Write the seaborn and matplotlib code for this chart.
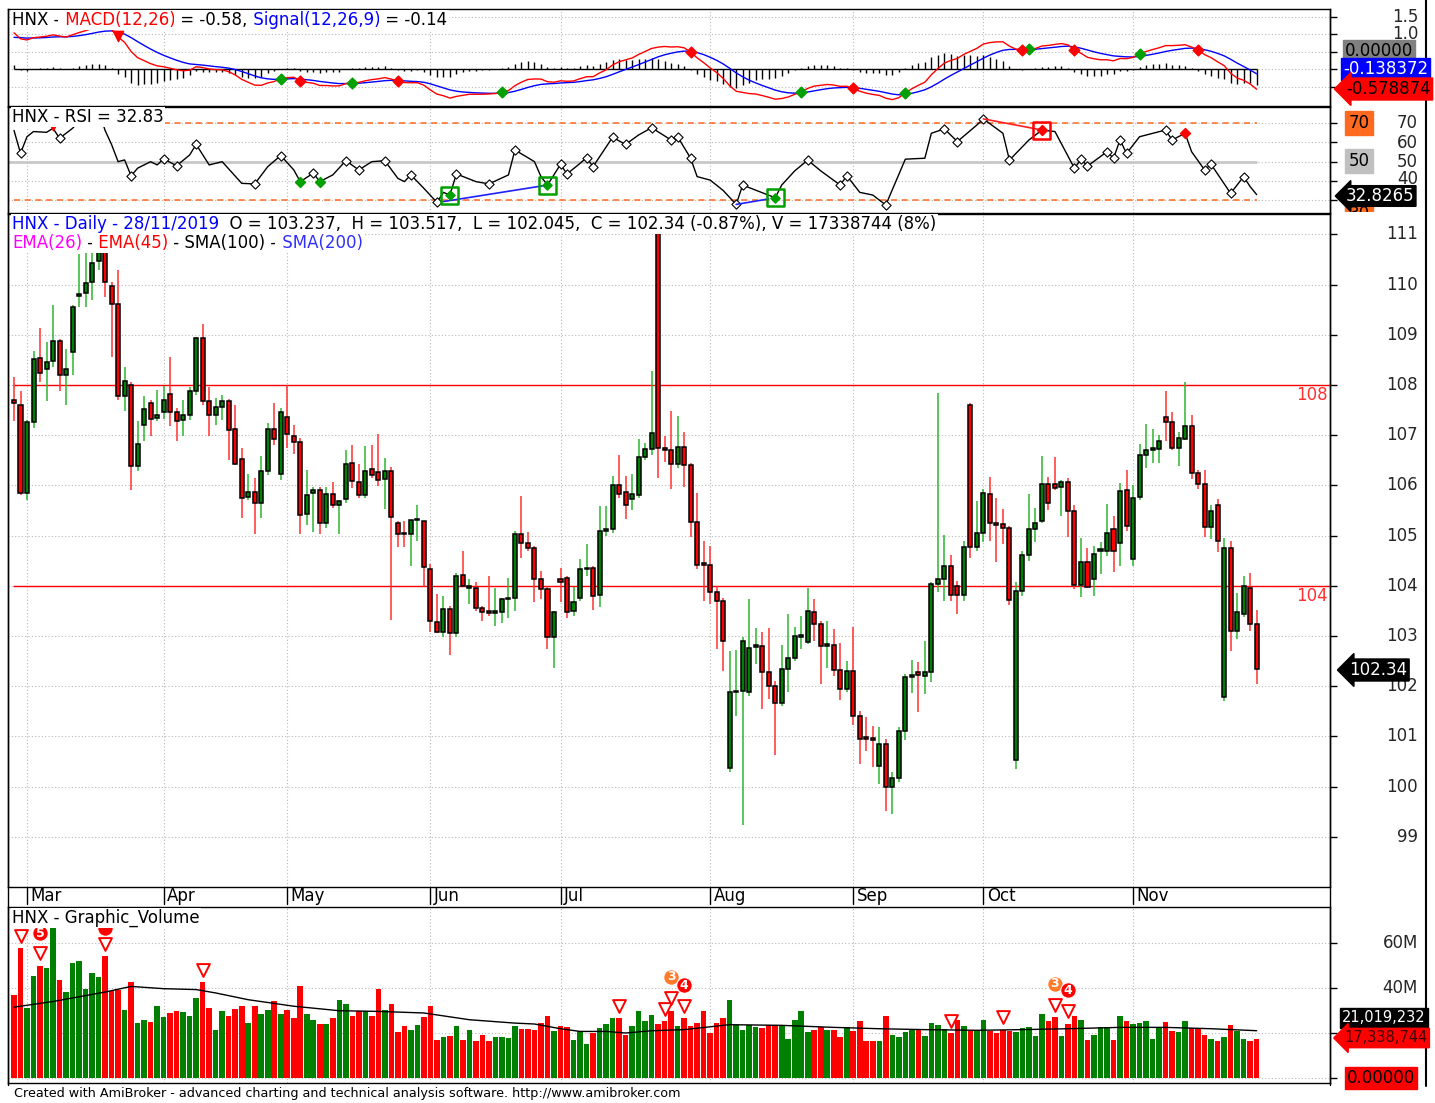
import numpy as np
import pandas as pd
import matplotlib
matplotlib.use("Agg")
import matplotlib.pyplot as plt
import matplotlib.transforms as mtransforms
import seaborn as sns

# ---------------------------------------------------------------- data
HOLIDAYS = ["2019-04-15", "2019-04-29", "2019-04-30", "2019-05-01", "2019-09-02"]
MONTH_LABELS = ["Mar", "Apr", "May", "Jun", "Jul", "Aug", "Sep", "Oct", "Nov"]

opens = [107.70, 107.61, 105.85, 107.26, 108.53, 108.31, 108.48, 108.87, 108.20, 108.66,
         109.78, 109.83, 110.05, 110.46, 110.65, 109.98, 109.61, 107.79, 107.99, 106.38,
         107.20, 107.65, 107.35, 107.46, 107.83, 107.46, 107.30, 107.41, 107.88, 108.93,
         107.69, 107.41, 107.57, 107.69, 107.12, 106.52, 105.76, 105.86, 105.65, 106.29,
         107.13, 106.23, 107.37, 106.99, 106.87, 105.43, 105.85, 105.90, 105.26, 105.83,
         105.61, 105.72, 106.44, 106.07, 105.80, 106.32, 106.27, 106.13, 106.29, 105.25,
         105.05, 105.03, 105.31, 105.30, 104.34, 103.28, 103.08, 103.54, 103.05, 104.21,
         103.96, 103.95, 103.55, 103.48, 103.46, 103.47, 103.73, 103.76, 105.04, 104.85,
         104.76, 104.14, 103.94, 102.97, 104.14, 104.16, 103.50, 103.76, 104.33, 104.36,
         103.81, 105.09, 105.14, 106.01, 105.86, 105.72, 105.80, 106.57, 106.72, 111.03,
         106.75, 106.70, 106.43, 106.76, 106.40, 105.28, 104.45, 104.41, 103.88, 103.70,
         100.38, 101.88, 101.91, 101.89, 102.79, 102.81, 102.29, 102.00, 101.67, 102.34,
         102.57, 102.98, 102.89, 103.47, 103.24, 102.81, 102.83, 102.33, 101.94, 102.31,
         101.40, 100.97, 100.96, 100.42, 100.85, 99.99, 100.18, 101.11, 102.18, 102.29,
         102.20, 102.29, 104.04, 104.14, 104.39, 104.00, 103.82, 107.60, 104.77, 105.05,
         105.82, 105.25, 105.23, 105.15, 100.52, 103.90, 104.61, 105.14, 105.30, 106.03,
         106.03, 105.96, 106.06, 105.48, 104.02, 104.47, 104.13, 104.70, 104.70, 105.14,
         104.85, 105.91, 104.54, 105.76, 106.60, 106.71, 106.72, 107.36, 107.26, 106.75,
         106.93, 107.19, 106.25, 106.03, 105.17, 105.61, 101.79, 104.75, 103.09, 103.44,
         103.95, 103.237]
highs = [108.15, 107.88, 107.30, 108.68, 109.13, 108.85, 109.60, 108.92, 108.71, 109.60,
         110.60, 110.65, 110.65, 110.72, 110.70, 110.05, 110.30, 108.35, 108.05, 107.28,
         107.78, 107.70, 107.91, 107.98, 108.55, 107.55, 107.71, 107.95, 108.95, 109.22,
         107.95, 107.75, 107.80, 107.72, 107.60, 106.75, 106.23, 106.15, 106.59, 107.25,
         107.65, 107.55, 108.00, 107.20, 106.95, 106.30, 105.96, 105.96, 105.96, 106.07,
         105.70, 106.71, 106.80, 106.42, 106.79, 106.80, 107.03, 106.55, 106.37, 105.30,
         105.30, 105.32, 105.60, 105.30, 104.44, 103.84, 103.80, 103.60, 104.25, 104.70,
         104.13, 104.07, 103.60, 104.19, 103.96, 103.75, 104.15, 105.10, 105.78, 105.07,
         104.80, 104.29, 104.00, 103.50, 104.36, 104.20, 103.97, 104.53, 104.83, 104.40,
         105.58, 105.58, 106.19, 106.60, 106.18, 106.22, 106.92, 106.85, 108.27, 111.05,
         106.98, 107.48, 107.39, 107.06, 106.45, 105.85, 104.89, 104.79, 104.00, 103.75,
         102.70, 102.73, 102.98, 103.74, 103.16, 103.07, 103.15, 102.10, 102.83, 103.43,
         103.18, 103.40, 103.96, 103.73, 103.30, 103.30, 103.13, 102.87, 102.50, 103.17,
         101.50, 101.38, 101.20, 101.18, 100.95, 100.30, 101.18, 102.25, 102.52, 102.48,
         102.91, 104.08, 107.84, 105.02, 104.62, 104.10, 104.90, 107.65, 105.69, 105.92,
         106.16, 105.75, 105.52, 105.20, 104.07, 104.70, 105.82, 105.54, 106.59, 106.16,
         106.56, 106.10, 106.15, 105.61, 104.95, 104.76, 104.80, 104.87, 105.63, 105.40,
         106.05, 106.30, 106.00, 106.82, 107.23, 107.12, 107.01, 107.88, 107.47, 107.07,
         108.06, 107.41, 106.30, 106.31, 105.60, 105.73, 104.95, 104.90, 103.85, 104.19,
         104.25, 103.517]
lows = [107.28, 105.80, 105.70, 107.15, 108.05, 107.68, 108.35, 107.88, 107.61, 108.20,
        109.55, 109.55, 109.70, 110.30, 109.75, 108.55, 107.70, 107.48, 105.90, 106.28,
        106.88, 106.98, 107.28, 107.33, 107.18, 106.88, 106.98, 107.31, 107.80, 107.60,
        106.98, 107.20, 107.30, 106.50, 106.40, 105.36, 105.70, 105.03, 105.35, 106.20,
        106.80, 106.10, 106.75, 106.62, 105.03, 105.21, 105.07, 105.03, 105.15, 105.55,
        105.03, 105.65, 105.95, 105.75, 105.75, 106.15, 105.99, 105.52, 103.31, 104.77,
        104.77, 104.40, 104.90, 103.97, 103.08, 103.05, 102.98, 102.63, 102.98, 103.98,
        103.63, 103.50, 103.30, 103.40, 103.20, 103.25, 103.35, 103.50, 104.55, 104.70,
        103.67, 103.73, 102.74, 102.37, 103.67, 103.36, 103.40, 103.70, 104.20, 103.52,
        103.57, 105.00, 105.05, 105.75, 105.34, 105.50, 105.75, 106.50, 106.60, 106.15,
        106.47, 105.93, 106.35, 105.96, 104.97, 104.34, 103.70, 103.64, 102.75, 102.31,
        100.30, 101.40, 99.23, 101.80, 102.45, 101.55, 101.75, 100.63, 101.60, 101.88,
        102.50, 102.75, 102.85, 102.90, 102.04, 102.37, 102.20, 101.73, 101.88, 101.23,
        100.45, 100.70, 100.40, 100.05, 99.52, 99.45, 100.10, 100.92, 101.86, 101.48,
        101.84, 102.09, 103.88, 103.70, 103.70, 103.44, 103.70, 104.55, 104.70, 104.87,
        104.89, 104.48, 104.83, 103.61, 100.35, 103.80, 104.50, 104.88, 105.25, 105.50,
        105.90, 105.40, 104.97, 103.94, 103.77, 103.95, 103.80, 104.24, 104.60, 104.28,
        104.40, 105.10, 104.40, 105.70, 106.35, 106.45, 106.44, 106.89, 106.70, 106.39,
        106.90, 106.13, 105.93, 104.97, 104.94, 104.68, 101.70, 102.70, 102.94, 103.38,
        103.10, 102.045]
closes = [107.65, 105.85, 107.26, 108.51, 108.23, 108.46, 108.87, 108.20, 108.31, 109.55,
          109.82, 110.03, 110.43, 110.65, 110.05, 109.61, 107.79, 108.08, 106.38, 106.83,
          107.53, 107.33, 107.41, 107.71, 107.46, 107.28, 107.41, 107.88, 108.93, 107.69,
          107.41, 107.57, 107.69, 107.10, 106.42, 105.74, 105.86, 105.65, 106.29, 107.13,
          106.93, 107.46, 107.02, 106.87, 105.41, 105.81, 105.90, 105.26, 105.83, 105.61,
          105.68, 106.42, 106.09, 105.80, 106.29, 106.20, 106.11, 106.29, 105.38, 105.03,
          105.03, 105.32, 105.33, 104.37, 103.29, 103.08, 103.54, 103.05, 104.20, 104.00,
          103.97, 103.55, 103.48, 103.46, 103.47, 103.73, 103.76, 105.04, 104.86, 104.76,
          104.14, 103.94, 102.97, 103.48, 104.07, 103.47, 103.67, 104.33, 104.36, 103.80,
          105.09, 105.14, 106.01, 105.82, 105.60, 105.82, 106.57, 106.72, 107.05, 106.75,
          106.70, 106.42, 106.76, 106.40, 105.28, 104.41, 104.42, 103.88, 103.70, 102.90,
          101.89, 101.90, 102.91, 102.77, 102.81, 102.29, 102.00, 101.67, 102.34, 102.57,
          102.99, 103.00, 103.50, 103.24, 102.81, 102.83, 102.33, 101.94, 102.31, 101.40,
          100.95, 100.95, 100.92, 100.85, 99.99, 100.18, 101.11, 102.19, 102.22, 102.22,
          102.29, 104.04, 104.14, 104.39, 103.82, 103.82, 104.77, 104.77, 105.05, 105.84,
          105.26, 105.21, 105.15, 103.72, 103.90, 104.61, 105.14, 105.25, 106.03, 105.65,
          105.94, 106.06, 105.48, 104.02, 104.48, 103.97, 104.63, 104.72, 105.05, 104.70,
          105.88, 105.19, 105.74, 106.60, 106.70, 106.73, 106.89, 107.26, 106.75, 106.95,
          107.19, 106.25, 106.03, 105.17, 105.48, 104.90, 104.75, 103.09, 103.48, 104.00,
          103.24, 102.34]
volumes_m = [37.0, 57.8, 31.1, 45.5, 49.9, 48.9, 67.0, 43.7, 38.1, 51.1,
             52.1, 39.7, 46.7, 44.7, 54.1, 38.8, 39.3, 30.4, 42.5, 24.4,
             25.9, 24.9, 31.9, 27.1, 28.9, 29.9, 29.3, 27.7, 35.6, 42.5,
             31.1, 21.5, 29.9, 27.7, 30.8, 31.9, 24.4, 31.9, 28.4, 30.4,
             34.4, 28.4, 30.4, 26.7, 40.7, 28.4, 25.9, 24.0, 24.0, 26.7,
             34.5, 32.9, 27.7, 29.9, 29.6, 27.7, 39.7, 30.4, 32.9, 20.4,
             23.3, 21.5, 23.7, 27.0, 31.9, 17.0, 18.1, 18.5, 23.3, 17.0,
             21.5, 16.6, 19.3, 16.3, 18.1, 18.1, 17.8, 23.3, 21.9, 21.9,
             21.5, 24.4, 27.7, 20.7, 23.0, 22.5, 17.0, 21.0, 15.1, 20.0,
             22.2, 24.0, 26.7, 26.7, 19.3, 23.0, 29.6, 25.5, 28.1, 24.0,
             25.2, 29.9, 23.0, 26.7, 23.2, 24.4, 29.9, 20.0, 24.4, 26.7,
             34.5, 23.7, 21.5, 23.4, 22.5, 22.2, 23.4, 23.0, 23.4, 17.5,
             25.9, 29.9, 20.3, 21.5, 22.5, 21.5, 21.5, 18.1, 22.5, 20.7,
             25.5, 16.6, 16.3, 16.3, 27.7, 19.3, 18.1, 20.3, 21.9, 21.9,
             18.5, 24.4, 23.7, 21.9, 20.0, 25.9, 22.9, 21.0, 21.5, 25.9,
             20.7, 20.0, 21.5, 20.7, 20.4, 22.2, 22.5, 18.8, 28.4, 25.2,
             27.1, 18.5, 24.1, 27.7, 25.9, 17.0, 19.3, 22.7, 22.5, 17.0,
             27.7, 25.5, 24.1, 24.4, 25.5, 17.5, 22.5, 24.9, 21.0, 20.4,
             25.5, 22.2, 22.2, 19.3, 17.5, 16.3, 18.1, 23.7, 20.7, 17.5,
             16.6, 17.34]

# volume moving average (bar index, millions)
vol_ma_idx = [0, 6, 14, 18, 23, 28, 31, 36, 43, 50, 56, 63, 70, 77, 80, 84, 87, 91, 94, 98,
              103, 110, 118, 126, 133, 140, 148, 155, 162, 170, 177, 184, 191]
vol_ma_val = [31.5, 34.0, 38.2, 40.7, 39.7, 39.3, 37.8, 34.8, 31.9, 29.9, 29.6, 28.9, 25.9,
              24.4, 24.0, 21.9, 20.7, 20.7, 20.0, 21.0, 21.5, 23.7, 23.4, 22.5, 21.9, 21.5,
              21.2, 21.5, 21.9, 22.5, 22.5, 21.9, 21.02]

# RSI(14) (bar index, value)
rsi_idx = [0, 1, 2, 3, 5, 6, 7, 9, 10, 11, 12, 13, 14, 15, 16, 17, 18, 19, 21, 22, 23, 25, 27,
           28, 30, 32, 35, 37, 39, 41, 43, 44, 46, 47, 49, 51, 53, 55, 57, 59, 60, 61, 63, 65,
           66, 67, 68, 71, 73, 76, 77, 80, 81, 82, 84, 85, 87, 88, 89, 92, 94, 96, 98, 101,
           102, 104, 105, 107, 109, 111, 112, 116, 117, 118, 120, 122, 124, 127, 128, 130,
           132, 134, 137, 140, 141, 143, 145, 148, 149, 152, 153, 156, 158, 160, 163, 164,
           165, 168, 169, 170, 171, 173, 177, 178, 180, 181, 183, 184, 187, 189, 190, 191]
rsi_val = [66.3, 54.4, 63.0, 65.7, 65.3, 67.4, 62.2, 67.4, 71.0, 73.5, 76.0, 77.0, 66.3, 58.9,
           50.0, 50.9, 42.6, 46.6, 50.0, 48.3, 51.4, 47.9, 53.5, 59.0, 48.3, 50.0, 38.7, 38.4,
           47.4, 53.2, 45.7, 39.6, 44.0, 39.6, 43.1, 50.5, 45.7, 50.0, 50.5, 41.3, 39.6, 43.1,
           36.1, 28.8, 34.0, 32.6, 43.6, 39.6, 38.4, 43.1, 56.1, 50.0, 42.2, 37.8, 48.6, 43.6,
           49.1, 52.1, 47.4, 62.7, 59.0, 63.9, 67.7, 61.3, 63.0, 51.8, 42.2, 40.4, 35.0, 27.7,
           37.8, 32.5, 31.2, 37.8, 45.2, 50.8, 45.2, 37.8, 42.7, 34.0, 32.6, 27.4, 51.3, 51.8,
           64.8, 67.1, 60.5, 69.1, 72.3, 64.8, 50.8, 61.3, 66.5, 65.7, 46.5, 51.3, 47.7, 55.2,
           51.8, 61.3, 54.3, 63.0, 66.5, 61.3, 64.8, 55.2, 45.7, 48.6, 33.5, 42.2, 37.0, 32.83]
rsi_pivots = [1, 7, 18, 23, 25, 28, 37, 41, 46, 51, 53, 57, 61, 65, 68, 73, 77, 84, 85, 88, 89,
              92, 94, 98, 101, 102, 104, 111, 112, 122, 127, 128, 134, 143, 145, 149, 153, 163,
              164, 165, 168, 169, 170, 171, 177, 178, 183, 184, 187, 189]

# MACD state at the first visible bar
MACD_START = 1.04
SIGNAL_START = 0.91
EMA26_START = 106.0

macd_buy_idx = [41, 52, 75, 121, 137, 156, 173]
macd_sell_idx = [44, 59, 104, 129, 155, 163, 182]
vol_signal_idx = [1, 4, 14, 29, 93, 100, 101, 103, 144, 152, 160, 162]

# ---------------------------------------------------------------- derived
dates = pd.bdate_range("2019-02-27", "2019-11-28")
dates = dates[~dates.isin(pd.to_datetime(HOLIDAYS))]
n = len(closes)
x = np.arange(n)
o, h, l, c = map(np.array, (opens, highs, lows, closes))
vol = np.array(volumes_m)
up = c >= o
month_first = [i for i in range(1, n) if dates[i].month != dates[i - 1].month]

e26 = EMA26_START
e12 = EMA26_START + MACD_START
sig = SIGNAL_START
macd, signal = [], []
for k in range(n):
    if k > 0:
        e12 += 2 / 13 * (c[k] - e12)
        e26 += 2 / 27 * (c[k] - e26)
        sig += 2 / 10 * ((e12 - e26) - sig)
    macd.append(e12 - e26)
    signal.append(sig)
macd = np.array(macd)
signal = np.array(signal)
hist = macd - signal

# ---------------------------------------------------------------- figure
W, H = 1435, 1103
sns.set_theme(style="white")
plt.rcParams["font.family"] = ["DejaVu Sans"]
FS = 12
fig = plt.figure(figsize=(W / 100, H / 100), dpi=100)


def rect(x0, y0, x1, y1):
    return [x0 / W, 1 - y1 / H, (x1 - x0) / W, (y1 - y0) / H]


XL = ((8 - 14) / 6.506, (1330 - 14) / 6.506)
ax_m = fig.add_axes(rect(8, 9, 1330, 106))
ax_r = fig.add_axes(rect(8, 107, 1330, 213))
ax_p = fig.add_axes(rect(8, 214, 1330, 887))
ax_v = fig.add_axes(rect(8, 907, 1330, 1083))

GRID = dict(color="#b8b8b8", lw=0.8, ls=(0, (1, 2)), zorder=0)
for ax, yt in ((ax_m, [1.5, 1.0, 0.5, 0.0, -0.5]), (ax_r, [70, 60, 50, 40, 30]),
               (ax_p, list(range(99, 112))), (ax_v, [0, 20, 40, 60])):
    ax.set_xlim(*XL)
    for s in ax.spines.values():
        s.set_color("black")
        s.set_linewidth(1.0)
    ax.set_yticks(yt)
    ax.yaxis.tick_right()
    ax.tick_params(axis="y", which="both", direction="out", length=5, width=1,
                   color="black", labelright=False, labelleft=False)
    ax.set_xticks([])
    for mf in month_first:
        ax.axvline(mf, **GRID)
    for v in yt:
        ax.axhline(v, **GRID)

ax_m.set_ylim(-1.051, 1.72)
ax_r.set_ylim(23.24, 78.5)
ax_p.set_ylim(98.0, 111.406)
ax_v.set_ylim(-2.22, 76.0)

# ---- MACD panel
ax_m.vlines(x, 0, hist, color="black", lw=1.0, zorder=2)
ax_m.hlines(0, 0, n - 1, color="black", lw=1.0, zorder=2)
sns.lineplot(x=x, y=signal, ax=ax_m, color="#0000ff", lw=1.0, zorder=3, estimator=None)
sns.lineplot(x=x, y=macd, ax=ax_m, color="#ff0000", lw=1.0, zorder=4, estimator=None)
ax_m.scatter(macd_buy_idx, macd[macd_buy_idx], marker="D", s=30, color="#00a000", zorder=5)
ax_m.scatter(macd_sell_idx, macd[macd_sell_idx], marker="D", s=30, color="#ff0000", zorder=5)
ax_m.scatter([16], [macd[16] + 0.03], marker="v", s=55, color="#ff0000", zorder=5)

# ---- RSI panel
ax_r.hlines([70, 30], 0, n - 1, color="#ff6a20", lw=1.1, ls=(0, (4, 3)), zorder=1)
ax_r.hlines(50, XL[0], n - 1, color="#c8c8c8", lw=2.0, zorder=1)
sns.lineplot(x=rsi_idx, y=rsi_val, ax=ax_r, color="black", lw=1.0, zorder=3, estimator=None)
rsi_map = dict(zip(rsi_idx, rsi_val))
ax_r.scatter(rsi_pivots, [rsi_map[i] for i in rsi_pivots], marker="D", s=22,
             facecolors="white", edgecolors="black", linewidths=0.8, zorder=4)
ax_r.plot([66, 82], [29.2, 37.8], color="#2020ff", lw=1.2, zorder=4)
ax_r.plot([111, 116], [27.7, 30.6], color="#2020ff", lw=1.2, zorder=4)
ax_r.plot([149, 158], [72.3, 66.5], color="#ff2020", lw=1.2, zorder=4)
ax_r.scatter([44, 47], [39.6, 39.6], marker="D", s=26, color="#00a000", zorder=5)
for i, v in ((67, 32.6), (82, 37.8), (117, 31.2)):
    ax_r.scatter([i], [v], marker="s", s=150, facecolors="none", edgecolors="#00a000",
                 linewidths=1.8, zorder=5)
    ax_r.scatter([i], [v], marker="D", s=22, color="#00a000", zorder=6)
ax_r.scatter([158], [66.5], marker="s", s=150, facecolors="none", edgecolors="#ff0000",
             linewidths=1.8, zorder=5)
ax_r.scatter([158, 180], [66.5, 64.8], marker="D", s=26, color="#ff0000", zorder=6)
ax_r.scatter([6], [68.6], marker="v", s=40, color="#ff0000", zorder=6)

# ---- price panel
ax_p.hlines([104, 108], -0.15, XL[1], color="#ff0000", lw=1.0, zorder=1)
ax_p.vlines(x[up], l[up], h[up], color="#2db52d", lw=1.1, zorder=2)
ax_p.vlines(x[~up], l[~up], h[~up], color="#ff3030", lw=1.1, zorder=2)
body_lo = np.minimum(o, c)
body_h = np.maximum(np.abs(c - o), 0.03)
ax_p.bar(x, body_h, bottom=body_lo, width=0.62,
         color=np.where(up, "#008000", "#ff0000"), edgecolor="black", linewidth=1.1, zorder=3)

# ---- volume panel
ax_v.bar(x, vol, width=0.86, color=np.where(up, "#008000", "#ff0000"), linewidth=0, zorder=2)
sns.lineplot(x=vol_ma_idx, y=vol_ma_val, ax=ax_v, color="black", lw=1.0, zorder=3, estimator=None)
ax_v.scatter(vol_signal_idx, vol[vol_signal_idx] + 5.5, marker="v", s=85, facecolors="white",
             edgecolors="#ff0000", linewidths=1.4, zorder=5)
for i, yv, num, col in ((4, 64.4, "5", "#ff0000"), (14, 66.7, "", "#ff0000"),
                        (101, 44.9, "3", "#ff7a2a"), (103, 41.3, "4", "#ff0000"),
                        (160, 41.8, "3", "#ff7a2a"), (162, 39.1, "4", "#ff0000")):
    ax_v.scatter([i], [yv], s=125, color=col, edgecolors="white", linewidths=0.8, zorder=6)
    ax_v.text(i, yv, num, color="white", ha="center", va="center", fontsize=9,
              fontweight="bold", zorder=7)

for ax in (ax_m, ax_r, ax_p, ax_v):
    ax.set_xlabel("")
    ax.set_ylabel("")
    leg = ax.get_legend()
    if leg:
        leg.remove()

# month labels under the price panel
blend = mtransforms.blended_transform_factory(ax_p.transData, ax_p.transAxes)
for mf, lab in zip(month_first, MONTH_LABELS):
    ax_p.plot([mf, mf], [0, -0.026], color="black", lw=1.0, transform=blend, clip_on=False)
    ax_p.text(mf + 0.55, -0.0135, lab, transform=blend, ha="left", va="center",
              fontsize=FS, color="black")

# ---------------------------------------------------------------- overlay texts
ov = fig.add_axes([0, 0, 1, 1], zorder=10)
ov.set_xlim(0, W)
ov.set_ylim(H, 0)
ov.axis("off")
ov.patch.set_alpha(0)

WB = dict(boxstyle="square,pad=0.08", fc="white", ec="none")


def chain(x0, y0, parts, size=FS, bg=True):
    bb = WB if bg else None
    t = ov.text(x0, y0, parts[0][0], color=parts[0][1], fontsize=size, ha="left",
                va="center", bbox=bb)
    for s, col in parts[1:]:
        t = ov.annotate(s, xy=(1, 0), xycoords=t, ha="left", va="bottom", color=col,
                        fontsize=size, bbox=bb)
    return t


K = "#000000"
chain(12, 20, [("HNX -", K), (" MACD(12,26)", "#ff0000"), (" = -0.58,", K),
               (" Signal(12,26,9)", "#0000ff"), (" = -0.14", K)])
chain(12, 117, [("HNX - RSI = 32.83", K)])
chain(12, 224, [("HNX - Daily - 28/11/2019", "#0000ff"),
                ("  O = 103.237,  H = 103.517,  L = 102.045,  C = 102.34 (-0.87%), "
                 "V = 17338744 (8%)", K)])
chain(12, 243, [("EMA(26)", "#ff00ff"), (" -", K), (" EMA(45)", "#ff0000"),
                (" - SMA(100) -", K), (" SMA(200)", "#3030ff")])
chain(12, 918, [("HNX - Graphic_Volume", K)])
ov.text(14, 1094, "Created with AmiBroker - advanced charting and technical analysis software. "
        "http://www.amibroker.com", fontsize=9.2, ha="left", va="center", color=K)

# right-hand scale labels
for p in range(99, 112):
    ov.text(1418, 385 + (108 - p) * 50.2, str(p), ha="right", va="center", fontsize=FS)
ov.text(1328, 395, "108", ha="right", va="center", fontsize=FS, color="#ff3030")
ov.text(1328, 596, "104", ha="right", va="center", fontsize=FS, color="#ff3030")
ov.text(1349, 670, "102.34", ha="left", va="center", fontsize=FS, color="white",
        bbox=dict(boxstyle="larrow,pad=0.12", fc="black", ec="black"))

ov.text(1418, 16.5, "1.5", ha="right", va="center", fontsize=FS)
ov.text(1418, 34, "1.0", ha="right", va="center", fontsize=FS)
ov.text(1345, 51, "0.00000", ha="left", va="center", fontsize=FS, color="black",
        bbox=dict(boxstyle="square,pad=0.12", fc="#808080", ec="#808080"))
ov.text(1343, 69, "-0.138372", ha="left", va="center", fontsize=FS, color="white",
        bbox=dict(boxstyle="square,pad=0.12", fc="#0000ff", ec="#0000ff"))
ov.text(1346, 89, "-0.578874", ha="left", va="center", fontsize=FS, color="black",
        bbox=dict(boxstyle="larrow,pad=0.12", fc="#ff0000", ec="#ff0000"))

for v in (70, 60, 50):
    ov.text(1418, 161.7 - (v - 50) * 1.917, str(v), ha="right", va="center", fontsize=FS)
ov.text(1418, 179, "40", ha="right", va="center", fontsize=FS)
ov.text(1359, 123, "70", ha="center", va="center", fontsize=FS, color="black",
        bbox=dict(boxstyle="square,pad=0.2", fc="#ff6a20", ec="#ff6a20"))
ov.text(1359, 161, "50", ha="center", va="center", fontsize=FS, color="black",
        bbox=dict(boxstyle="square,pad=0.2", fc="#c0c0c0", ec="#c0c0c0"))
t30 = ov.text(1359, 214, "30", ha="center", va="center", fontsize=FS, color="black",
              bbox=dict(boxstyle="square,pad=0.2", fc="#ff6a20", ec="#ff6a20"))
t30.set_clip_box(mtransforms.TransformedBbox(mtransforms.Bbox([[1330, 107], [1435, 212]]),
                                             ov.transData))
t30.set_clip_on(True)
ov.text(1346, 196, "32.8265", ha="left", va="center", fontsize=FS, color="white",
        bbox=dict(boxstyle="larrow,pad=0.08", fc="black", ec="black"))

ov.text(1418, 943, "60M", ha="right", va="center", fontsize=FS)
ov.text(1418, 988, "40M", ha="right", va="center", fontsize=FS)
ov.text(1342, 1018, "21,019,232", ha="left", va="center", fontsize=10.5, color="white",
        bbox=dict(boxstyle="square,pad=0.15", fc="black", ec="black"))
ov.text(1344, 1038, "17,338,744", ha="left", va="center", fontsize=10.5, color="#400000",
        bbox=dict(boxstyle="larrow,pad=0.15", fc="#ff0000", ec="#ff0000"))
ov.text(1347, 1078, "0.00000", ha="left", va="center", fontsize=FS, color="black",
        bbox=dict(boxstyle="square,pad=0.12", fc="#ff0000", ec="#ff0000"))

# frame lines
ov.plot([8, 8], [9, 1085], color="black", lw=1.0)
ov.plot([1330, 1330], [9, 1085], color="black", lw=1.0)
ov.plot([1426, 1426], [0, 1086], color="black", lw=1.5)

fig.savefig("out.png", dpi=100)
